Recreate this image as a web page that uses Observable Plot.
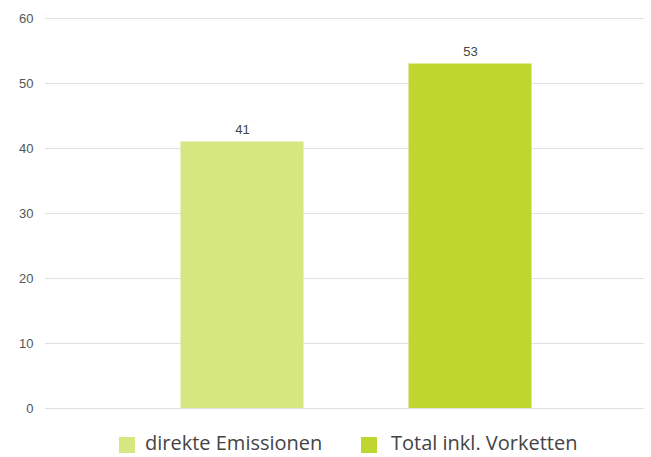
<!DOCTYPE html>
<html><head><meta charset="utf-8">
<script src="https://cdn.jsdelivr.net/npm/d3@7"></script>
<script src="https://cdn.jsdelivr.net/npm/@observablehq/plot@0.6"></script>
<style>
body{margin:0;background:#fff;font-family:"Open Sans",sans-serif;}
#legend{position:absolute;top:428px;left:0;width:651px;height:30px;font-family:"Open Sans",sans-serif;font-size:20px;color:#444;}
.sw{position:absolute;top:9px;width:16px;height:16px;}
.lt{position:absolute;top:0;line-height:30px;white-space:nowrap;}
</style></head><body>
<div id="chart"></div>
<div id="legend"></div>
<script>
const categories = ["direkte Emissionen", "Total inkl. Vorketten"];
const values = [41, 53];
const colors = ["#d6e681", "#c0d630"];
const yTicks = [0, 10, 20, 30, 40, 50, 60];

const data = categories.map((c, i) => ({cat: c, value: values[i]}));

const plot = Plot.plot({
  width: 651, height: 420,
  marginLeft: 45, marginRight: 7, marginTop: 18, marginBottom: 12,
  style: {fontFamily: "Liberation Sans, Arial, sans-serif", fontSize: "13px", color: "#555", background: "#fff"},
  x: {domain: categories, range: [127.5, 583.5], padding: 0, axis: null},
  y: {domain: [0, 60], ticks: yTicks, label: null, tickSize: 0, tickPadding: 12},
  color: {domain: categories, range: colors},
  marks: [
    Plot.ruleY(yTicks, {stroke: "#e0e0e0", strokeWidth: 1}),
    Plot.barY(data, {x: "cat", y: "value", fill: "cat", insetLeft: 52.5, insetRight: 52.5}),
    Plot.text(data, {x: "cat", y: "value", text: d => String(d.value), dy: -12, fill: "#444", fontSize: 13})
  ]
});
document.getElementById("chart").appendChild(plot);

const legend = document.getElementById("legend");
const swLefts = [119, 361];
const textLefts = [145, 391];
categories.forEach((c, i) => {
  const sw = document.createElement("div");
  sw.className = "sw"; sw.style.left = swLefts[i] + "px"; sw.style.background = colors[i];
  const t = document.createElement("span");
  t.className = "lt"; t.style.left = textLefts[i] + "px"; t.textContent = c;
  legend.appendChild(sw); legend.appendChild(t);
});
</script>
</body></html>
